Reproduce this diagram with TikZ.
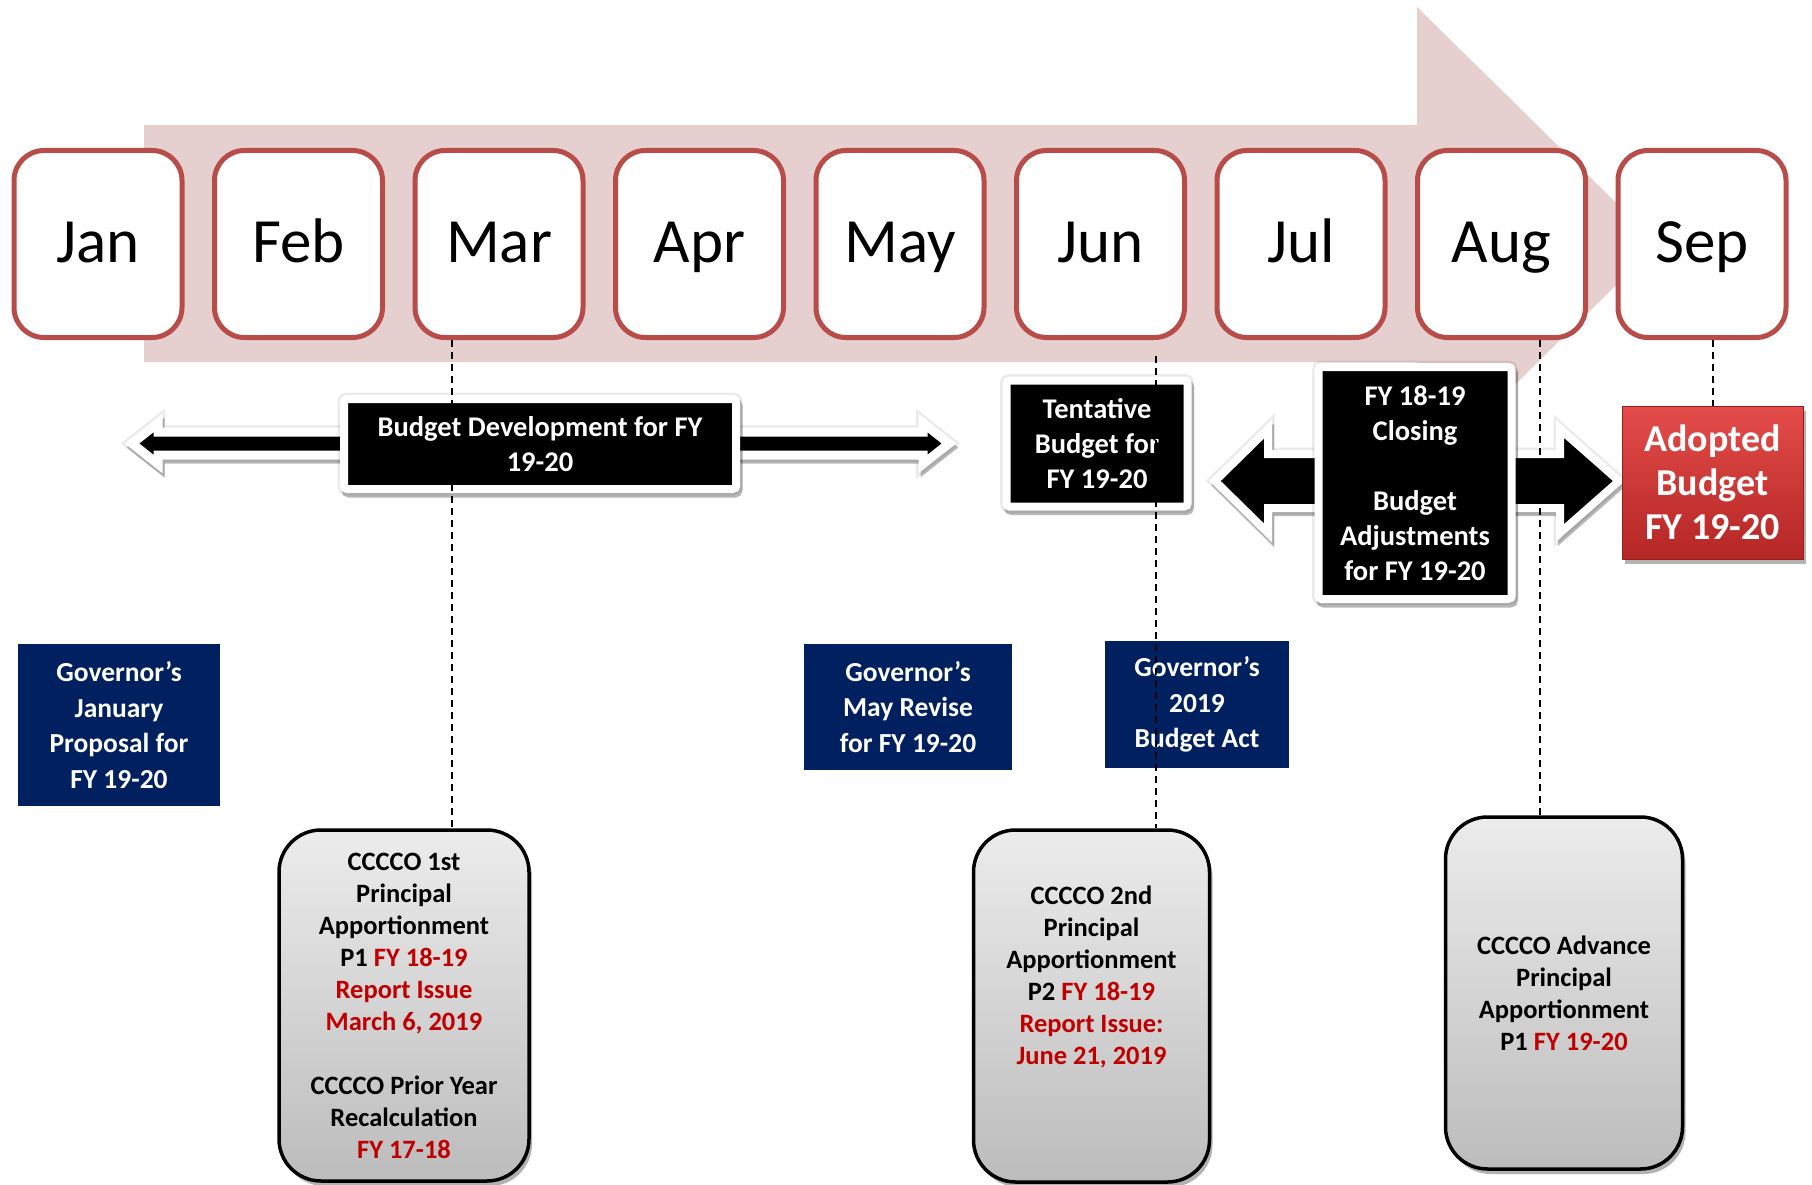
\documentclass[tikz,border=0pt]{standalone}
\usepackage{fontspec}
\setmainfont{Carlito}
\usetikzlibrary{shadows}
\definecolor{pinkarr}{RGB}{230,207,207}
\definecolor{monthred}{RGB}{184,76,73}
\definecolor{navy}{RGB}{0,32,96}
\definecolor{darkred}{RGB}{192,0,0}
\definecolor{adtop}{RGB}{228,76,74}
\definecolor{adbot}{RGB}{180,38,36}
\definecolor{adline}{RGB}{150,30,30}
\definecolor{graytop}{RGB}{236,236,236}
\definecolor{graybot}{RGB}{188,188,188}
\begin{document}
\begin{tikzpicture}[x=1pt,y=-1pt,
  month/.style={draw=monthred, line width=5pt, fill=white, rounded corners=30pt,
    minimum width=168pt, minimum height=187pt, inner sep=0pt,
    text height=36pt, text depth=0pt, font=\fontsize{63}{75}\selectfont},
  shad/.style={drop shadow={shadow xshift=3pt, shadow yshift=-5pt, opacity=0.3, fill=black}},
  whiteshad/.style={drop shadow={shadow xshift=2pt, shadow yshift=-4pt, opacity=0.28,
      fill=black, draw=black, line width=#1}},
  halo/.style={preaction={draw=black, draw opacity=0.08, line width=#1}},
  lbl/.style={fill=black, draw=white, line width=8pt, text=white, align=center,
    rounded corners=3pt, inner sep=0pt, font=\fontsize{28.5}{35}\selectfont\bfseries,
    whiteshad=9pt, halo=13pt},
  blockarrow/.style={fill=black, draw=white, line width=#1, line join=miter,
    whiteshad=#1, halo=#1+5pt},
  gov/.style={fill=navy, text=white, align=center, inner sep=0pt,
    font=\fontsize{27.5}{35.5}\selectfont\bfseries},
  adopted/.style={top color=adtop, bottom color=adbot, draw=adline, line width=1pt,
    text=white, align=center, inner sep=0pt, minimum width=181pt, minimum height=153pt,
    font=\fontsize{38}{44}\selectfont\bfseries, shad},
  cbox/.style={draw=black, line width=3.5pt, rounded corners=42pt,
    top color=graytop, bottom color=graybot, align=center, inner sep=0pt,
    font=\fontsize{26.5}{32}\selectfont\bfseries, shad},
  ctext/.style={align=center, inner sep=0pt, font=\fontsize{26.5}{32}\selectfont\bfseries},
  dline/.style={draw=black, line width=2pt, dash pattern=on 7pt off 5pt}
]
\useasboundingbox (0,0) rectangle (1812,1185);

% big pink background arrow
\fill[pinkarr] (144,125) -- (1417,125) -- (1417,7) -- (1658,244) -- (1417,481)
  -- (1417,362) -- (144,362) -- cycle;

% month boxes
\foreach \t [count=\i] in {Jan,Feb,Mar,Apr,May,Jun,Jul,Aug,Sep}
  \node[month] (m\i) at ({98+200.5*(\i-1)},244) {\t};

% double arrow: budget development
\path[blockarrow=9pt] (132,443.5) -- (158,423) -- (158,432) -- (923,432) -- (923,423)
  -- (949,443.5) -- (923,464) -- (923,455) -- (158,455) -- (158,464) -- cycle;

% double arrow: closing / adjustments
\path[blockarrow=8pt] (1215,481) -- (1268,429) -- (1268,454) -- (1560,454) -- (1560,429)
  -- (1619,481) -- (1560,533) -- (1560,508) -- (1268,508) -- (1268,533) -- cycle;

% black label boxes
\node[lbl, minimum width=392pt, minimum height=90pt] (bdev) at (540,444)
  {Budget Development for FY\\19-20};
\node[lbl, minimum width=181pt, minimum height=126pt] (tent) at (1097,443.5)
  {Tentative\\Budget for\\FY 19-20};
\node[lbl, minimum width=193pt, minimum height=232pt] (close) at (1415,483)
  {FY 18-19\\Closing\\[35pt]Budget\\Adjustments\\for FY 19-20};

% adopted budget
\node[adopted] (adopt) at (1712.5,482.5) {Adopted\\Budget\\FY 19-20};

% governor boxes
\node[gov, minimum width=202pt, minimum height=162pt] (gjan) at (119,725)
  {Governor’s\\January\\Proposal for\\FY 19-20};
\node[gov, minimum width=208pt, minimum height=126pt] (gmay) at (908,707)
  {Governor’s\\May Revise\\for FY 19-20};
\node[gov, minimum width=184pt, minimum height=127pt] (gact) at (1197,704.5)
  {Governor’s\\2019\\Budget Act};

% CCCCO boxes
\node[cbox, minimum width=250pt, minimum height=351pt] (p1) at (404,1005.5)
  {CCCCO 1st\\Principal\\Apportionment\\P1 \textcolor{darkred}{FY 18-19}\\
   \textcolor{darkred}{Report Issue}\\\textcolor{darkred}{March 6, 2019}\\[32pt]
   CCCCO Prior Year\\Recalculation\\\textcolor{darkred}{FY 17-18}};
\node[cbox, minimum width=236pt, minimum height=352pt] (p2) at (1091.5,1006) {};
\node[ctext] (p2t) at (1091.5,977)
  {CCCCO 2nd\\Principal\\Apportionment\\P2 \textcolor{darkred}{FY 18-19}\\
   \textcolor{darkred}{Report Issue:}\\\textcolor{darkred}{June 21, 2019}};
\node[cbox, minimum width=237pt, minimum height=352pt] (p3) at (1564,993)
  {CCCCO Advance\\Principal\\Apportionment\\P1 \textcolor{darkred}{FY 19-20}};

% dashed connectors
\draw[dline] ([xshift=-47pt]m3.south) -- ([xshift=-47pt]m3.south |- p1.north);
\draw[dline] ([xshift=55.5pt,yshift=-16pt]m6.south) -- ([xshift=55.5pt]m6.south |- p2.north);
\draw[dline] ([xshift=38.5pt]m8.south) -- ([xshift=38.5pt]m8.south |- p3.north);
\draw[dline] (adopt.north |- m9.south) -- (adopt.north);
\end{tikzpicture}
\end{document}
